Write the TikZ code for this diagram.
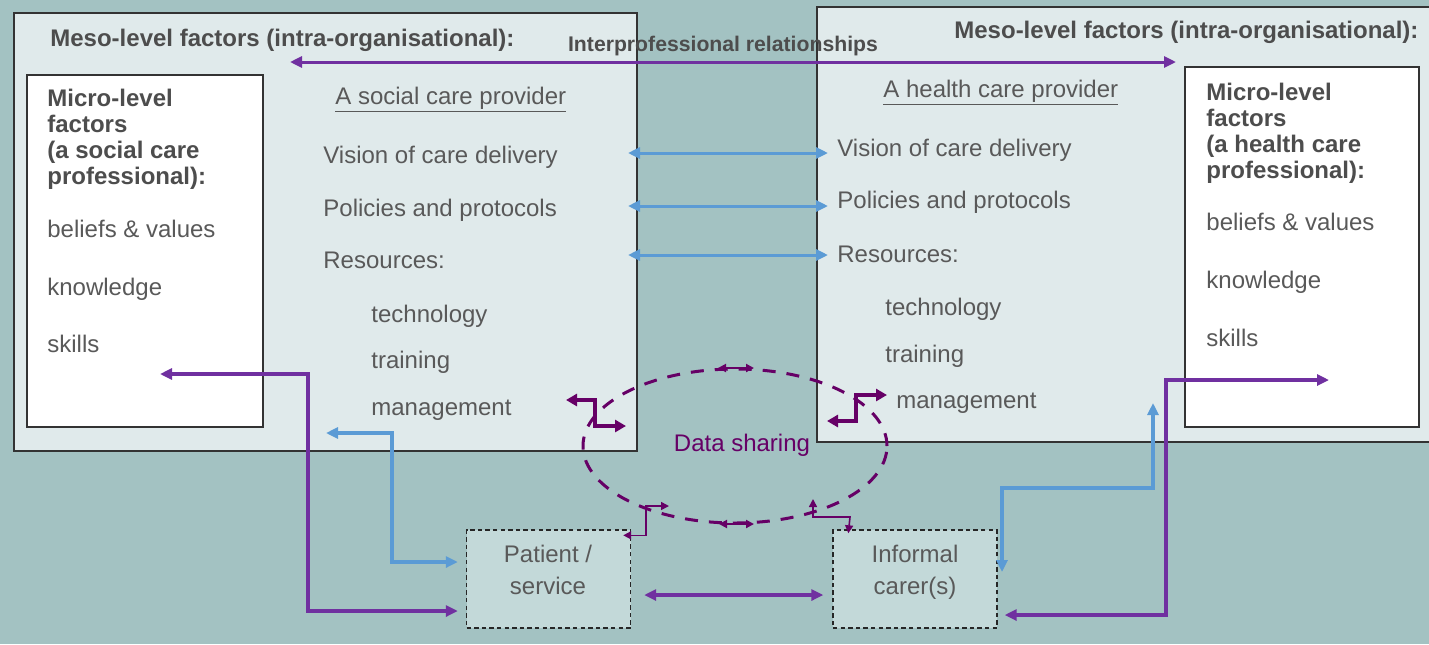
\documentclass[tikz,border=0pt]{standalone}
\usepackage{fontspec}
\setmainfont{Liberation Sans}
\usetikzlibrary{arrows.meta}

\definecolor{seagrey}{HTML}{A3C2C2}
\definecolor{panelgrey}{HTML}{E0EAEB}
\definecolor{cardgrey}{HTML}{C3D9D9}
\definecolor{textgrey}{HTML}{595959}
\definecolor{headgrey}{HTML}{4D4D4D}
\definecolor{relviolet}{HTML}{7030A0}
\definecolor{relblue}{HTML}{5B9BD5}
\definecolor{dataplum}{HTML}{660066}

\tikzset{
  txt/.style={anchor=base west, inner sep=0pt, text=textgrey, font=\fontsize{12}{14}\selectfont},
  boldtxt/.style={txt, text=headgrey, font=\fontsize{12}{14}\selectfont\bfseries},
  panel/.style={draw=black!80, line width=0.75pt, fill=panelgrey},
  microbox/.style={draw=black!80, line width=0.75pt, fill=white},
  carebox/.style={draw=black!85, line width=0.7pt, dash pattern=on 2.2pt off 1.6pt,
    fill=cardgrey, minimum width=82pt, minimum height=49pt, inner sep=0pt},
  twoway/.style={line width=1.6pt, {Triangle[length=6pt,width=5.5pt]}-{Triangle[length=6pt,width=5.5pt]}},
  datalink/.style={dataplum, line width=2pt, {Triangle[length=5.5pt,width=6pt]}-{Triangle[length=5.5pt,width=6pt]}},
  thinlink/.style={dataplum, line width=0.8pt, {Triangle[length=4pt,width=4pt]}-{Triangle[length=4pt,width=4pt]}}
}

\begin{document}
\begin{tikzpicture}[x=0.5pt, y=-0.5pt]
  \useasboundingbox (0,0) rectangle (1429,644);
  \clip (0,0) rectangle (1429,644);
  \fill[seagrey] (0,0) rectangle (1429,644);

  % the two organisations and their professionals
  \draw[panel] (14,13) rectangle (637,451);
  \draw[panel] (817,7) rectangle (1450,442);
  \draw[microbox] (27,75) rectangle (263,427);
  \draw[microbox] (1185,67) rectangle (1419,427);

  \node[boldtxt] (mesoL) at (50,46) {Meso-level factors (intra-organisational):};
  \node[boldtxt] (mesoR) at (954,38) {Meso-level factors (intra-organisational):};
  \node[boldtxt, anchor=base, font=\fontsize{10.6}{12}\selectfont\bfseries] (interprof) at (723,51) {Interprofessional relationships};

  \node[txt] (socprov) at (335,104) {\underline{A social care provider}};
  \node[txt] (hlthprov) at (883,97) {\underline{A health care provider}};

  \foreach \t/\x/\y [count=\i] in {Vision of care delivery/323/163, Policies and protocols/323/216,
      Resources:/323/268, technology/371/322, training/371/368, management/371/415}
    \node[txt] (socres\i) at (\x,\y) {\t};
  \foreach \t/\x/\y [count=\i] in {Vision of care delivery/837/156, Policies and protocols/837/208,
      Resources:/837/262, technology/885/315, training/885/362, management/896/408}
    \node[txt] (hlthres\i) at (\x,\y) {\t};

  \foreach \t/\y [count=\i] in {Micro-level/106, factors/132, {(a social care}/158, {professional):}/184}
    \node[boldtxt] (socmic\i) at (47,\y) {\t};
  \foreach \t/\y [count=\i] in {beliefs \& values/237, knowledge/295, skills/352}
    \node[txt] (socind\i) at (47,\y) {\t};
  \foreach \t/\y [count=\i] in {Micro-level/100, factors/126, {(a health care}/152, {professional):}/178}
    \node[boldtxt] (hlthmic\i) at (1206,\y) {\t};
  \foreach \t/\y [count=\i] in {beliefs \& values/230, knowledge/288, skills/346}
    \node[txt] (hlthind\i) at (1206,\y) {\t};

  % data sharing
  \draw[dataplum, line width=1.5pt, dash pattern=on 6.5pt off 5.5pt] (735,446) ellipse [x radius=76pt, y radius=38.5pt];
  \node[txt, anchor=base, text=dataplum] (datashare) at (742,451) {Data sharing};

  % patient and carer
  \node[carebox] (patient) at (548.5,579) {};
  \node[carebox] (carer) at (915,579) {};
  \node[txt, anchor=base] (patient1) at (548,562) {Patient /};
  \node[txt, anchor=base] (patient2) at (548,594) {service};
  \node[txt, anchor=base] (carer1) at (915,562) {Informal};
  \node[txt, anchor=base] (carer2) at (915,594) {carer(s)};

  % free ends of the connectors
  \coordinate (relL) at (290,62);
  \coordinate (relR) at (1176,62);
  \coordinate (skillsL) at (160,374);
  \coordinate (skillsR) at (1329,380);
  \coordinate (mgmtL) at (326,433);
  \coordinate (mgmtR) at (1153,403);
  \coordinate (carerB) at (1002,572);
  \coordinate (zigL) at (566,400);
  \coordinate (zigLe) at (626,426);
  \coordinate (zigR) at (827,421);
  \coordinate (zigRe) at (887,395);
  \coordinate (dsTopL) at (718,368);
  \coordinate (dsTopR) at (754,368);
  \coordinate (dsBotL) at (719,524);
  \coordinate (dsBotR) at (754,524);
  \coordinate (dsPat) at (669,506);
  \coordinate (dsCar) at (813,499);

  \draw[twoway, relviolet, line width=1.5pt] (relL) -- (relR);
  \foreach \y [count=\i] in {153,206,255} {
    \coordinate (orgL\i) at (628,\y);
    \coordinate (orgR\i) at (828,\y);
    \draw[twoway, relblue, line width=1.5pt] (orgL\i) -- (orgR\i);
  }

  \draw[twoway, relviolet] (skillsL) -| (308,611) -- ([yshift=-16pt, xshift=-4pt]patient.west);
  \draw[twoway, relblue] (mgmtL) -| (392,562) -- ([yshift=8.5pt, xshift=-4pt]patient.west);
  \draw[twoway, relblue] (carerB) |- (1153,488) -- (mgmtR);
  \draw[twoway, relviolet] ([yshift=-18pt, xshift=3.5pt]carer.east) -| (1166,380) -- (skillsR);
  \draw[twoway, relviolet, shorten <=6.5pt, shorten >=4.5pt] ([yshift=-8pt]patient.east) -- ([yshift=-8pt]carer.west);

  \draw[datalink] (zigL) -| (595,426) -- (zigLe);
  \draw[datalink] (zigR) -| (856,395) -- (zigRe);
  \draw[thinlink, line width=1pt] (dsTopL) -- (dsTopR);
  \draw[thinlink, line width=1.4pt] (dsBotL) -- (dsBotR);
  \draw[thinlink] ([xshift=-4pt, yshift=-3pt]patient.north east) -| (646,506) -- (dsPat);
  \draw[thinlink] (dsCar) |- (850,517) -- ([xshift=8pt, yshift=-2pt]carer.north west);
\end{tikzpicture}
\end{document}
